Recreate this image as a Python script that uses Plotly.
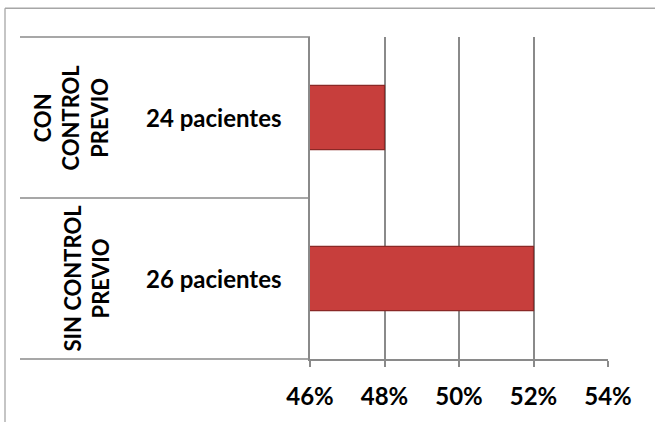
import plotly.graph_objects as go

# Data
groups = ["SIN CONTROL<br>PREVIO", "CON<br>CONTROL<br>PREVIO"]
patients = ["26 pacientes", "24 pacientes"]
shares = [0.52, 0.48]
x_ticks = [0.46, 0.48, 0.50, 0.52, 0.54]

W, H = 655, 422
L, R, T, B = 310, 47, 37, 60
plot_w = W - L - R
plot_h = H - T - B


def px_x(px):
    return (px - L) / plot_w


def px_y(py):
    return (H - B - py) / plot_h


FONT = "Lato"
GRID = "#8a8a8a"
text_font = dict(family=FONT, size=24, color="black", weight="bold")
group_font = dict(family=FONT, size=22, color="black", weight="bold")

fig = go.Figure()
fig.add_trace(go.Bar(
    y=list(range(len(shares))),
    x=shares,
    orientation="h",
    width=0.4,
    marker=dict(color="#c73e3c", line=dict(color="#8a2826", width=1.2)),
    hoverinfo="skip",
))

shapes = []
# category separators on the left (outer + inner label columns)
for k in range(len(groups) + 1):
    yk = k / len(groups)
    shapes.append(dict(type="line", xref="paper", yref="paper",
                       x0=px_x(20), x1=0, y0=yk, y1=yk,
                       line=dict(color=GRID, width=1.5)))
# chart frame (left and top edges)
shapes.append(dict(type="line", xref="paper", yref="paper",
                   x0=px_x(5), x1=px_x(5), y0=px_y(8), y1=px_y(430),
                   line=dict(color="#a6a6a6", width=1.3)))
shapes.append(dict(type="line", xref="paper", yref="paper",
                   x0=px_x(5), x1=px_x(660), y0=px_y(8), y1=px_y(8),
                   line=dict(color="#a6a6a6", width=1.3)))

annotations = []
outer_x = [px_x(86), px_x(70)]
for i, (g, p) in enumerate(zip(groups, patients)):
    annotations.append(dict(xref="paper", yref="y", x=px_x(214), y=i,
                            text=p, showarrow=False, xanchor="center",
                            yanchor="middle", font=text_font))
    annotations.append(dict(xref="paper", yref="y", x=outer_x[i], y=i,
                            text=g, showarrow=False, textangle=-90,
                            xanchor="center", yanchor="middle",
                            font=group_font))

fig.update_layout(
    width=W, height=H,
    margin=dict(l=L, r=R, t=T, b=B, pad=0),
    paper_bgcolor="white", plot_bgcolor="white",
    showlegend=False,
    shapes=shapes,
    annotations=annotations,
    xaxis=dict(range=[x_ticks[0], x_ticks[-1]], tickvals=x_ticks,
               tickformat=".0%", showgrid=True, gridcolor=GRID, gridwidth=1.5,
               showline=True, linecolor=GRID, linewidth=1.5,
               ticks="outside", ticklen=6, tickcolor=GRID, tickwidth=1.5,
               ticklabelstandoff=9,
               zeroline=False, tickfont=text_font, fixedrange=True),
    yaxis=dict(range=[-0.5, len(groups) - 0.5], showticklabels=False,
               showgrid=False, zeroline=False, showline=True,
               linecolor=GRID, linewidth=1.5, ticks="", fixedrange=True),
)

fig.write_html("out.html")
